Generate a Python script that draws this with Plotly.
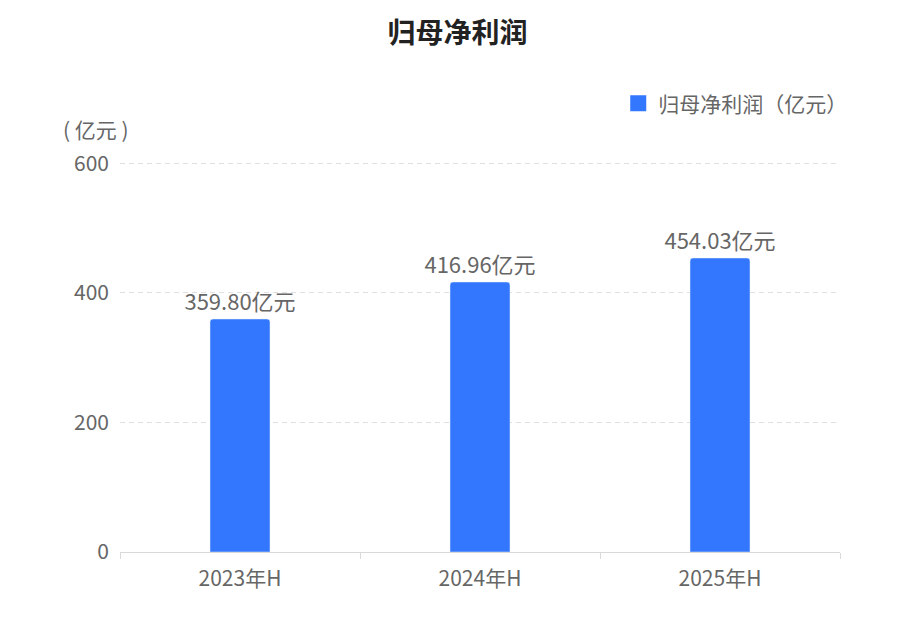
import plotly.graph_objects as go

# Data
periods = ["2023年H", "2024年H", "2025年H"]
profit = [359.80, 416.96, 454.03]
labels = [f"{v:.2f}亿元" for v in profit]

FONT = "Noto Sans CJK SC"
GREY = "#666666"
BLUE = "#3377FF"

fig = go.Figure()

fig.add_trace(
    go.Bar(
        x=periods,
        y=profit,
        name="归母净利润（亿元）",
        marker_color=BLUE,
        width=0.25,
        text=labels,
        textposition="outside",
        constraintext="none",
        textfont=dict(size=22, color=GREY, family=FONT),
        cliponaxis=False,
        showlegend=False,
    )
)

# legend entry with a bigger square marker
fig.add_trace(
    go.Scatter(
        x=[None],
        y=[None],
        mode="markers",
        name="归母净利润（亿元）",
        marker=dict(symbol="square", size=17, color=BLUE),
    )
)

fig.update_layout(
    width=899,
    height=619,
    margin=dict(l=112, r=67, t=149, b=75),
    paper_bgcolor="white",
    plot_bgcolor="white",
    font=dict(family=FONT, color=GREY),
    barcornerradius=3,
    title=dict(
        text="<b>归母净利润</b>",
        x=0.5,
        xanchor="center",
        y=0.96,
        yanchor="middle",
        font=dict(size=28, color="#222222", family=FONT),
    ),
    showlegend=True,
    legend=dict(
        orientation="h",
        x=1.017,
        xanchor="right",
        y=1.135,
        yanchor="middle",
        font=dict(size=21, color=GREY, family=FONT),
    ),
    xaxis=dict(
        showline=True,
        linecolor="#d9d9d9",
        linewidth=1,
        ticks="outside",
        tickson="boundaries",
        ticklen=6,
        tickcolor="#d9d9d9",
        ticklabelstandoff=8,
        tickfont=dict(size=21, color=GREY),
        showgrid=False,
    ),
    yaxis=dict(
        range=[0, 610],
        tickvals=[0, 200, 400, 600],
        showgrid=True,
        gridcolor="#e0e0e0",
        griddash="5px,4px",
        gridwidth=1,
        zeroline=False,
        showline=False,
        ticks="",
        ticklabelstandoff=10,
        tickfont=dict(size=21, color=GREY),
    ),
    annotations=[
        dict(
            text="( 亿元 )",
            xref="paper",
            yref="paper",
            x=-0.033,
            y=1.072,
            xanchor="center",
            yanchor="middle",
            showarrow=False,
            font=dict(size=21, color=GREY, family=FONT),
        )
    ],
)

fig.write_html("out.html")
